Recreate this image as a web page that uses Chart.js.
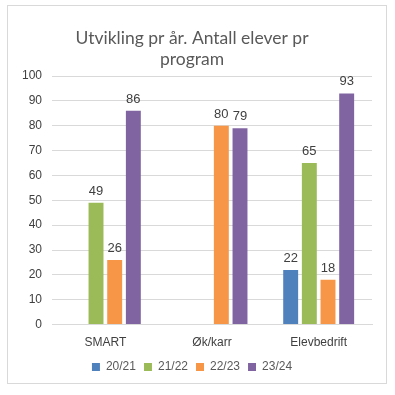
<!DOCTYPE html>
<html>
<head>
<meta charset="utf-8">
<script src="https://cdn.jsdelivr.net/npm/chart.js@4"></script>
<style>
  html, body { margin: 0; padding: 0; background: #fff; }
  #box { position: absolute; left: 7px; top: 5px; width: 378px; height: 377px; border: 1px solid #d9d9d9; }
</style>
</head>
<body>
<div id="box"><canvas id="chart" width="378" height="377"></canvas></div>
<script>
const categories = ['SMART', 'Øk/karr', 'Elevbedrift'];
const seriesLabels = ['20/21', '21/22', '22/23', '23/24'];
const s2021 = [null, null, 22];
const s2122 = [49, null, 65];
const s2223 = [26, 80, 18];
const s2324 = [86, 79, 93];
const yTicks = [0, 10, 20, 30, 40, 50, 60, 70, 80, 90, 100];
const colors = ['#4F81BD', '#9BBB59', '#F79646', '#8064A2'];

const valueLabels = {
  id: 'valueLabels',
  afterDatasetsDraw(chart) {
    const ctx = chart.ctx;
    ctx.save();
    ctx.font = '13px "Liberation Sans"';
    ctx.fillStyle = '#404040';
    ctx.textAlign = 'center';
    ctx.textBaseline = 'bottom';
    chart.data.datasets.forEach((ds, i) => {
      chart.getDatasetMeta(i).data.forEach((bar, j) => {
        if (ds.data[j] == null) return;
        ctx.fillText(ds.data[j], bar.x, bar.y - 5);
      });
    });
    ctx.restore();
  }
};

new Chart(document.getElementById('chart'), {
  type: 'bar',
  data: {
    labels: categories,
    datasets: [s2021, s2122, s2223, s2324].map((d, i) => ({
      label: seriesLabels[i],
      data: d,
      backgroundColor: colors[i],
      categoryPercentage: 0.7,
      barPercentage: 0.8
    }))
  },
  options: {
    responsive: false,
    animation: false,
    layout: { padding: { left: 4, right: 14, top: 14, bottom: 0 } },
    plugins: {
      title: {
        display: true,
        text: ['Utvikling pr år. Antall elever pr', 'program'],
        color: '#595959',
        font: { family: 'Lato', size: 17.5, weight: 'normal', lineHeight: 1.2 },
        padding: { top: 8, bottom: 6 }
      },
      legend: {
        position: 'bottom',
        labels: {
          boxWidth: 8, boxHeight: 8, padding: 8,
          color: '#595959',
          font: { family: 'Liberation Sans', size: 12 }
        }
      },
      tooltip: { enabled: false }
    },
    scales: {
      x: {
        grid: { display: false },
        border: { color: '#d9d9d9' },
        ticks: { color: '#404040', font: { family: 'Liberation Sans', size: 12 }, padding: 3 }
      },
      y: {
        min: 0, max: 100,
        afterBuildTicks(axis) { axis.ticks = yTicks.map(v => ({ value: v })); },
        grid: { color: '#d9d9d9', drawTicks: false },
        border: { display: false },
        ticks: { color: '#404040', font: { family: 'Liberation Sans', size: 12 }, padding: 10 }
      }
    }
  },
  plugins: [valueLabels]
});
</script>
</body>
</html>
